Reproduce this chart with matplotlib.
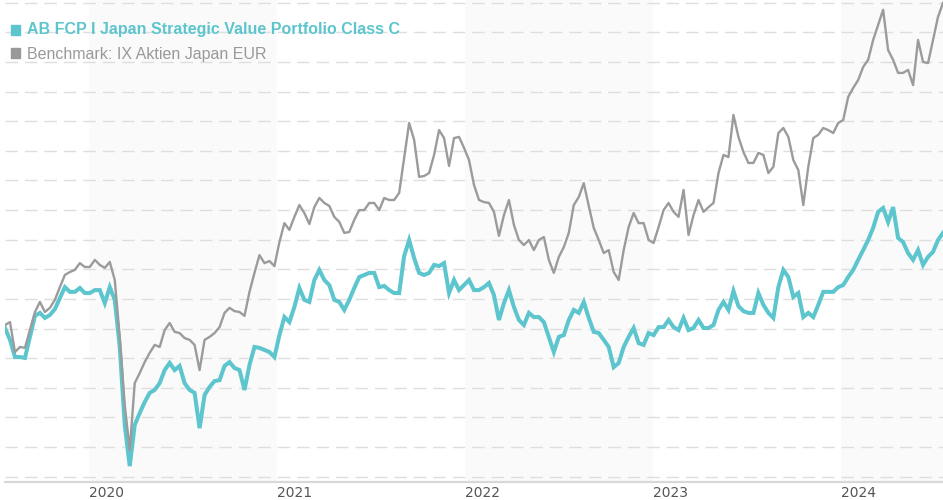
import matplotlib.pyplot as plt
import matplotlib.patches as patches
import pandas as pd

plt.rcParams['lines.scale_dashes'] = False

# growth series (no y labels in the original, arbitrary index)
fund_values = [
    100.2, 96.2, 90.4, 90.4, 90.1, 97.2, 104.3, 105.3, 103.6, 104.6,
    106.6, 110.3, 114.0, 112.4, 112.4, 113.7, 112.0, 112.0, 113.0, 113.0,
    108.6, 114.0, 109.7, 93.8, 67.5, 53.6, 67.5, 71.5, 75.2, 78.3,
    79.3, 81.6, 86.0, 88.4, 86.0, 87.4, 81.6, 79.3, 78.3, 66.4,
    77.6, 80.3, 82.3, 82.6, 87.4, 88.7, 86.7, 86.0, 79.3, 87.7,
    93.8, 93.5, 92.8, 92.1, 90.4, 97.8, 103.9, 102.2, 107.3, 113.7,
    109.7, 109.0, 116.4, 119.8, 116.4, 114.7, 109.7, 109.0, 106.3, 109.7,
    113.7, 117.4, 118.1, 118.8, 118.8, 114.0, 114.4, 113.0, 112.0, 112.0,
    124.5, 129.9, 123.8, 118.8, 118.1, 118.8, 121.5, 121.1, 122.1, 112.0,
    116.4, 113.0, 114.7, 116.4, 113.0, 113.0, 114.0, 115.4, 111.3, 102.9,
    108.6, 113.0, 107.3, 102.9, 101.2, 105.3, 103.9, 103.9, 102.2, 97.2,
    92.1, 97.2, 97.8, 102.9, 106.3, 105.3, 109.0, 103.6, 98.9, 98.5,
    96.2, 93.8, 87.0, 88.4, 93.8, 97.2, 100.2, 95.1, 94.5, 98.5,
    97.8, 100.5, 100.5, 102.9, 100.5, 99.5, 103.6, 99.5, 100.2, 102.9,
    100.2, 100.2, 101.2, 106.3, 109.0, 106.3, 112.7, 107.6, 105.9, 105.3,
    105.3, 112.0, 108.0, 105.3, 103.6, 114.0, 119.8, 117.4, 110.7, 112.0,
    103.9, 105.3, 103.9, 108.0, 112.4, 112.4, 112.4, 114.0, 114.7, 117.4,
    119.8, 123.2, 126.5, 129.9, 134.0, 139.4, 140.7, 136.0, 141.0, 130.6,
    129.2, 125.5, 123.2, 126.5, 121.5, 124.2, 125.9, 129.9, 132.3,
]
bench_values = [
    101.2, 102.2, 92.1, 93.8, 93.5, 99.5, 105.6, 109.0, 105.6, 107.0,
    109.7, 114.0, 118.1, 119.1, 119.8, 122.1, 120.8, 120.8, 123.2, 121.5,
    120.5, 122.5, 116.4, 97.2, 74.2, 59.0, 81.6, 85.0, 88.7, 91.8,
    94.5, 93.8, 99.5, 101.9, 98.9, 98.5, 96.8, 96.2, 94.5, 86.0,
    96.2, 97.2, 98.5, 100.5, 105.3, 107.0, 105.9, 105.6, 104.3, 112.4,
    118.8, 124.8, 122.1, 122.8, 121.1, 129.2, 135.6, 133.3, 137.7, 141.7,
    139.0, 135.3, 141.0, 144.1, 142.4, 141.4, 137.7, 136.0, 132.3, 132.6,
    136.7, 140.0, 140.0, 142.4, 142.4, 140.0, 144.1, 143.4, 143.4, 145.8,
    157.6, 169.4, 163.7, 151.2, 151.5, 152.5, 158.6, 167.0, 164.3, 154.9,
    164.3, 164.7, 161.0, 156.9, 148.5, 143.4, 142.7, 142.4, 139.4, 131.3,
    138.3, 143.4, 135.0, 129.9, 128.2, 129.9, 126.5, 129.9, 130.9, 123.2,
    118.8, 124.2, 127.5, 132.3, 141.7, 144.4, 149.1, 141.4, 134.0, 129.9,
    125.5, 126.5, 119.1, 116.4, 126.5, 134.3, 139.0, 135.6, 135.6, 129.9,
    128.9, 134.3, 140.0, 142.4, 139.4, 137.7, 146.8, 131.6, 138.3, 143.4,
    139.4, 141.0, 142.4, 152.5, 158.6, 157.9, 172.1, 164.7, 159.6, 155.9,
    155.9, 159.3, 158.6, 152.5, 154.6, 166.0, 167.7, 164.7, 156.9, 153.5,
    141.7, 154.6, 164.3, 165.4, 167.7, 167.0, 166.0, 169.4, 170.4, 178.2,
    181.2, 183.9, 188.3, 190.7, 197.4, 202.5, 207.6, 194.0, 190.7, 186.3,
    186.3, 187.3, 182.2, 197.4, 190.0, 189.6, 197.4, 205.2, 209.9,
]
dates = pd.date_range('2019-07-22', '2024-07-17', periods=len(fund_values))

years = [2020, 2021, 2022, 2023, 2024]
shaded_years = [2020, 2022, 2024]
fund_name = "AB FCP I Japan Strategic Value Portfolio Class C"
bench_name = "Benchmark: IX Aktien Japan EUR"

teal = '#5cc5cd'
grey = '#9b9b9b'

fig = plt.figure(figsize=(9.43, 5.0), dpi=100)
ax = fig.add_axes([5 / 943, 18.5 / 500, 938 / 943, 481.5 / 500])

for yr in shaded_years:
    ax.axvspan(pd.Timestamp(f'{yr}-01-01'), pd.Timestamp(f'{yr + 1}-01-01'),
               color='#fafafa', zorder=0, lw=0)

ax.plot(dates, fund_values, color=teal, lw=2.9, zorder=3, solid_joinstyle='miter')
ax.plot(dates, bench_values, color=grey, lw=1.7, zorder=4)

ax.set_xlim(dates[0], dates[-1])
ax.set_ylim(48.4, 210.9)
ax.set_yticks(range(50, 211, 10))
ax.yaxis.grid(True, color='#dedede', lw=1.0, linestyle=(0, (9, 5)))
ax.set_axisbelow(True)
ax.tick_params(axis='y', left=False, labelleft=False)

ax.set_xticks([pd.Timestamp(f'{y}-01-01') for y in years])
ax.set_xticklabels([str(y) for y in years], ha='left', color='#555555',
                   fontsize=10, family=['Liberation Sans Narrow', 'DejaVu Sans'])
ax.tick_params(axis='x', length=0, pad=3)

for s in ['top', 'left', 'right']:
    ax.spines[s].set_visible(False)
ax.spines['bottom'].set_color('#d8d8d8')
ax.spines['bottom'].set_linewidth(1.6)

# legend at top left, drawn by hand
W, H = 943, 500
fig.patches.append(patches.Rectangle((11 / W, 1 - 34.5 / H), 9 / W, 9 / H,
                                     transform=fig.transFigure, color=teal, zorder=5))
fig.patches.append(patches.Rectangle((11 / W, 1 - 57.5 / H), 9 / W, 9 / H,
                                     transform=fig.transFigure, color='#999999', zorder=5))
fig.text(27 / W, 1 - 34.4 / H, fund_name, color=teal, fontsize=11.5, weight='bold',
         family='Liberation Sans', va='baseline', ha='left')
fig.text(27 / W, 1 - 59.3 / H, bench_name, color='#999999', fontsize=11.5,
         family='Liberation Sans', va='baseline', ha='left')

plt.savefig('out.png', dpi=100)
